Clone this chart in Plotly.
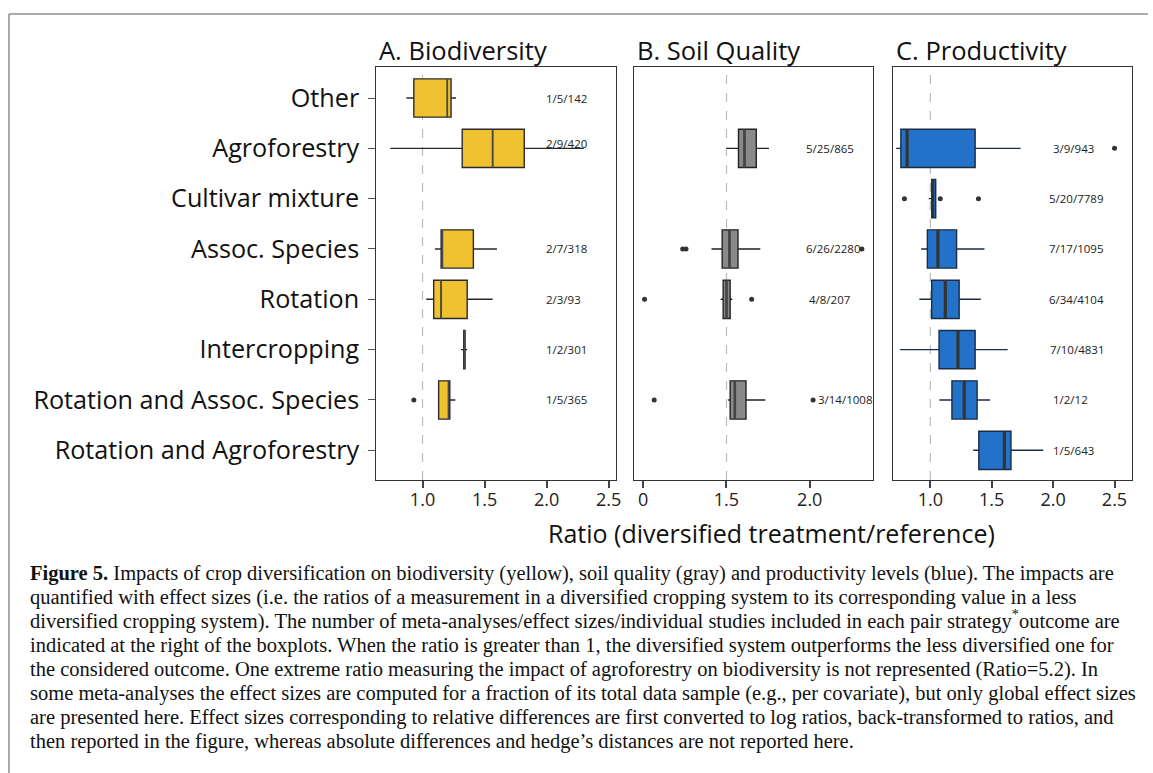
import plotly.graph_objects as go

W, H = 1153, 773

categories = ["Other", "Agroforestry", "Cultivar mixture", "Assoc. Species", "Rotation",
              "Intercropping", "Rotation and Assoc. Species", "Rotation and Agroforestry"]

# A. Biodiversity
bio_lower = [0.87, 0.74, None, 1.10, 1.03, 1.31, 1.13, None]
bio_q1 = [0.93, 1.32, None, 1.15, 1.09, 1.332, 1.13, None]
bio_median = [1.20, 1.565, None, 1.16, 1.15, 1.338, 1.21, None]
bio_q3 = [1.23, 1.82, None, 1.41, 1.36, 1.343, 1.22, None]
bio_upper = [1.27, 2.30, None, 1.60, 1.565, 1.36, 1.265, None]
bio_outliers = [[], [], [], [], [], [], [0.93], []]
bio_labels = ["1/5/142", "2/9/420", "", "2/7/318", "2/3/93", "1/2/301", "1/5/365", ""]

# B. Soil Quality
soil_lower = [None, 1.50, None, 1.41, 1.465, None, 1.51, None]
soil_q1 = [None, 1.572, None, 1.474, 1.48, None, 1.522, None]
soil_median = [None, 1.608, None, 1.518, 1.50, None, 1.55, None]
soil_q3 = [None, 1.679, None, 1.569, 1.522, None, 1.617, None]
soil_upper = [None, 1.755, None, 1.703, 1.535, None, 1.733, None]
soil_outliers = [[], [], [], [1.237, 1.257, 2.313], [1.008, 1.651], [], [1.066, 2.02], []]
soil_labels = ["", "5/25/865", "", "6/26/2280", "4/8/207", "", "3/14/1008", ""]

# C. Productivity
prod_lower = [None, 0.722, 0.987, 0.925, 0.911, 0.754, 1.073, 1.349]
prod_q1 = [None, 0.76, 1.011, 0.976, 1.011, 1.071, 1.176, 1.395]
prod_median = [None, 0.811, 1.019, 1.062, 1.122, 1.225, 1.276, 1.603]
prod_q3 = [None, 1.365, 1.044, 1.214, 1.235, 1.365, 1.381, 1.657]
prod_upper = [None, 1.735, 1.05, 1.441, 1.411, 1.63, 1.487, 1.919]
prod_outliers = [[], [2.5], [0.789, 1.081, 1.392], [], [], [], [], []]
prod_labels = ["", "3/9/943", "5/20/7789", "7/17/1095", "6/34/4104", "7/10/4831", "1/2/12", "1/5/643"]

x_ticks = [1.0, 1.5, 2.0, 2.5]
x_ticklabels = ["1.0", "1.5", "2.0", "2.5"]
soil_ticks = [1.0, 1.5, 2.0]
soil_ticklabels = ["0", "1.5", "2.0"]
ref_values = [1.0, 1.5, 1.0]

panel_titles = ["A. Biodiversity", "B. Soil Quality", "C. Productivity"]
x_title = "Ratio (diversified treatment/reference)"

caption_lines = [
    "<b>Figure 5.</b> Impacts of crop diversification on biodiversity (yellow), soil quality (gray) and productivity levels (blue). The impacts are",
    "quantified with effect sizes (i.e. the ratios of a measurement in a diversified cropping system to its corresponding value in a less",
    "diversified cropping system). The number of meta-analyses/effect sizes/individual studies included in each pair strategy<sup>*</sup>outcome are",
    "indicated at the right of the boxplots. When the ratio is greater than 1, the diversified system outperforms the less diversified one for",
    "the considered outcome. One extreme ratio measuring the impact of agroforestry on biodiversity is not represented (Ratio=5.2). In",
    "some meta-analyses the effect sizes are computed for a fraction of its total data sample (e.g., per covariate), but only global effect sizes",
    "are presented here. Effect sizes corresponding to relative differences are first converted to log ratios, back-transformed to ratios, and",
    "then reported in the figure, whereas absolute differences and hedge\u2019s distances are not reported here.",
]

# ---- layout / style (not data) ----
def px_x(p):
    return p / W

def px_y(p):
    return 1 - p / H

panels = [
    dict(lower=bio_lower, q1=bio_q1, med=bio_median, q3=bio_q3, upper=bio_upper,
         out=bio_outliers, labels=bio_labels, fill="#F0C232", edge="#2a2a2a",
         medcol="#4a4a4a", medw=1.6, xdom=(378, 619), xr=[0.628, 2.562],
         tv=x_ticks, tt=x_ticklabels,
         lab_x=[1.977] * 8, lab_shift=[0, 5, 0, 0, 0, 0, 0, 0]),
    dict(lower=soil_lower, q1=soil_q1, med=soil_median, q3=soil_q3, upper=soil_upper,
         out=soil_outliers, labels=soil_labels, fill="#8A8A8A", edge="#222222",
         medcol="#444444", medw=2.6, xdom=(637, 877), xr=[0.946, 2.381],
         tv=soil_ticks, tt=soil_ticklabels,
         lab_x=[0, 1.968, 0, 1.968, 1.984, 0, 2.040, 0], lab_shift=[0] * 8),
    dict(lower=prod_lower, q1=prod_q1, med=prod_median, q3=prod_q3, upper=prod_upper,
         out=prod_outliers, labels=prod_labels, fill="#2272C9", edge="#1c2c44",
         medcol="#333333", medw=3.2, xdom=(897, 1137), xr=[0.697, 2.643],
         tv=x_ticks, tt=x_ticklabels,
         lab_x=[0, 1.979, 1.952, 1.952, 1.952, 1.957, 1.984, 1.984], lab_shift=[0] * 8),
]

BOXW = 0.76
fig = go.Figure()
annotations = []
shapes = []
y_top, y_bot = 67, 480
yrange = [7.59, -0.616]

for k, p in enumerate(panels):
    xa = "x" if k == 0 else f"x{k+1}"
    ya = "y" if k == 0 else f"y{k+1}"
    idx = [i for i in range(len(categories)) if p["med"][i] is not None]
    fig.add_trace(go.Box(
        orientation="h",
        y=idx,
        q1=[p["q1"][i] for i in idx],
        median=[p["med"][i] for i in idx],
        q3=[p["q3"][i] for i in idx],
        lowerfence=[p["lower"][i] for i in idx],
        upperfence=[p["upper"][i] for i in idx],
        width=BOXW, whiskerwidth=0, boxpoints=False,
        fillcolor=p["fill"], line=dict(color=p["edge"], width=1.4),
        xaxis=xa, yaxis=ya, showlegend=False, hoverinfo="skip",
    ))
    # medians (thicker)
    mx, my = [], []
    for i in idx:
        mx += [p["med"][i], p["med"][i], None]
        my += [i - BOXW / 2, i + BOXW / 2, None]
    fig.add_trace(go.Scatter(x=mx, y=my, mode="lines",
                             line=dict(color=p["medcol"], width=p["medw"]),
                             xaxis=xa, yaxis=ya, showlegend=False, hoverinfo="skip"))
    # outliers
    ox, oy = [], []
    for i, vals in enumerate(p["out"]):
        for v in vals:
            ox.append(v)
            oy.append(i)
    if ox:
        fig.add_trace(go.Scatter(x=ox, y=oy, mode="markers",
                                 marker=dict(color="#333333", size=5),
                                 xaxis=xa, yaxis=ya, showlegend=False, hoverinfo="skip"))
    # count labels
    for i, t in enumerate(p["labels"]):
        if t:
            annotations.append(dict(x=p["lab_x"][i], y=i, xref=xa, yref=ya, text=t,
                                    showarrow=False, xanchor="left", yanchor="middle",
                                    yshift=p["lab_shift"][i],
                                    font=dict(family="Open Sans", size=11.5, color="#222")))
    # reference dashed line
    shapes.append(dict(type="line", xref=xa, yref=f"{ya} domain", x0=ref_values[k], x1=ref_values[k],
                       y0=0, y1=1, line=dict(color="#BBBBBB", width=1.2, dash="dash"), layer="below"))
    # panel title
    annotations.append(dict(x=px_x(p["xdom"][0] + 1), y=px_y(y_top + 2), xref="paper", yref="paper",
                            text=panel_titles[k], showarrow=False, xanchor="left", yanchor="bottom",
                            font=dict(family="Open Sans", size=25.5, color="#111")))
    xkey = "xaxis" if k == 0 else f"xaxis{k+1}"
    ykey = "yaxis" if k == 0 else f"yaxis{k+1}"
    fig.layout[xkey] = dict(domain=[px_x(p["xdom"][0]), px_x(p["xdom"][1])], range=p["xr"],
                            anchor=ya, tickvals=p["tv"], ticktext=p["tt"], ticks="outside",
                            ticklen=7, tickwidth=2, tickcolor="#444", showline=True, mirror=True,
                            linecolor="#333", linewidth=1.2, showgrid=False, zeroline=False,
                            ticklabelstandoff=-4,
                            tickfont=dict(family="Open Sans", size=18, color="#222"))
    yax = dict(domain=[px_y(y_bot), px_y(y_top)], range=yrange, anchor=xa,
               showline=True, mirror=True, linecolor="#333",
               linewidth=1.2, showgrid=False, zeroline=False)
    if k == 0:
        yax.update(tickvals=list(range(len(categories))), ticktext=categories,
                   ticks="outside", ticklen=7, tickwidth=1.2, tickcolor="#555",
                   ticklabelstandoff=4,
                   tickfont=dict(family="Open Sans", size=25.2, color="#111"))
    else:
        yax.update(showticklabels=False, ticks="")
    fig.layout[ykey] = yax

# x-axis title
annotations.append(dict(x=px_x(775), y=px_y(533), xref="paper", yref="paper", text=x_title,
                        showarrow=False, xanchor="center", yanchor="middle",
                        font=dict(family="Open Sans", size=25, color="#111")))

# caption (bottom-anchored so the superscript does not shift a line)
for j, line in enumerate(caption_lines):
    annotations.append(dict(x=px_x(28), y=px_y(575 + 24 * j + 12), xref="paper", yref="paper",
                            text=line, showarrow=False, xanchor="left", yanchor="bottom",
                            font=dict(family="Liberation Serif", size=20.5, color="#111")))

# outer frame
shapes.append(dict(type="line", xref="paper", yref="paper", x0=px_x(9), x1=1.0,
                   y0=px_y(14), y1=px_y(14), line=dict(color="#8f8f8f", width=1.5)))
shapes.append(dict(type="line", xref="paper", yref="paper", x0=px_x(9), x1=px_x(9),
                   y0=px_y(14), y1=0, line=dict(color="#8f8f8f", width=1.5)))

fig.update_layout(width=W, height=H, margin=dict(l=0, r=0, t=0, b=0),
                  paper_bgcolor="white", plot_bgcolor="white",
                  annotations=annotations, shapes=shapes, showlegend=False)

fig.write_html("out.html", config={"displayModeBar": False},
               post_script="document.body.style.margin='0';document.body.style.overflow='hidden';")
